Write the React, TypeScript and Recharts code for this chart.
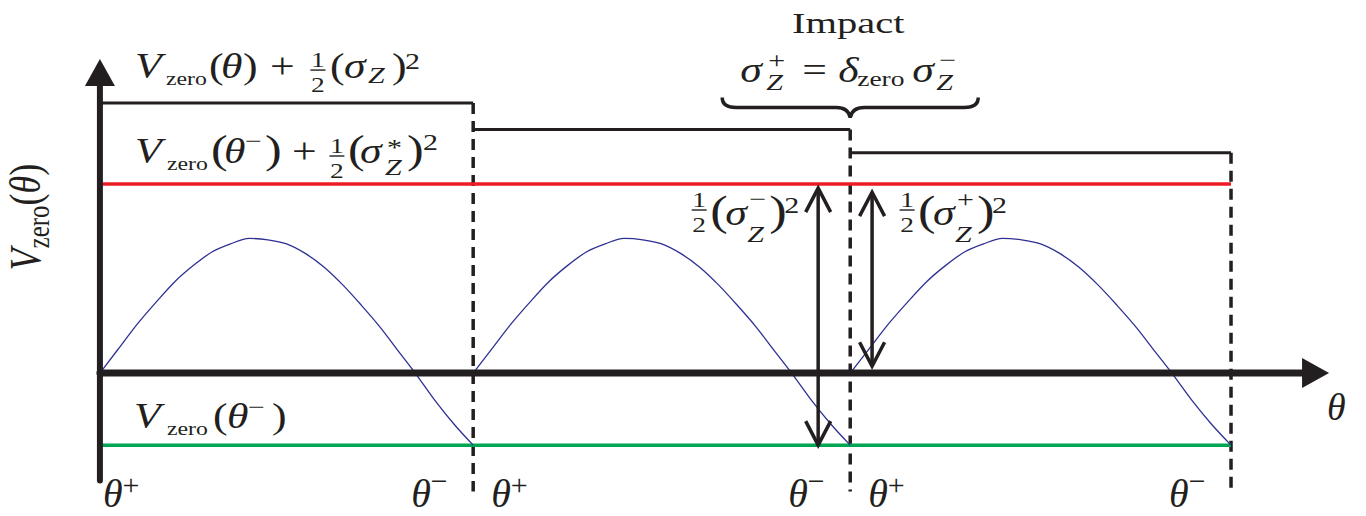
import React from 'react';
import { LineChart, Line, XAxis, YAxis, ReferenceLine, ReferenceDot } from 'recharts';

const WIDTH = 1366;
const HEIGHT = 516;

const INK = '#231f20';
const RED = '#ed1c24';
const GREEN = '#00a651';
const BLUE = '#2e3192';
const SERIF = '"Liberation Serif", "Times New Roman", serif';

// θ at each impact: end of one step (θ-) and start of the next one (θ+)
const impacts = [0, 0.99, 1.99, 3.0];

// V_zero over one step, sampled at fractions of the step
const stepFraction = [0, 0.05, 0.1, 0.15, 0.2, 0.25, 0.3, 0.35, 0.4, 0.45, 0.5, 0.55, 0.6, 0.65, 0.7, 0.75, 0.8, 0.85, 0.9, 0.95, 1];
const vZero = [0, 0.18, 0.36, 0.52, 0.67, 0.79, 0.89, 0.95, 0.99, 0.98, 0.95, 0.88, 0.78, 0.65, 0.5, 0.34, 0.16, -0.02, -0.21, -0.38, -0.53];

// V_zero(θ) + ½(σZ)², constant on each step
const energyLevels = [1.985, 1.79, 1.62];
// V_zero(θ-) + ½(σZ*)²
const limitLevel = 1.39;
// V_zero(θ-)
const bottomLevel = -0.53;

// double arrows ½(σZ-)² (before impact) and ½(σZ+)² (after impact)
const arrowTheta = [1.905, 2.048];
const arrowLow = [-0.53, 0.05];
const arrowHigh = [1.36, 1.33];

const X_DOMAIN = [-0.265, 3.358];
const Y_DOMAIN = [-1.051, 2.743];
const yAxisEnds = [-0.79, 2.31];
const xAxisEnd = 3.26;
const dashBottom = -0.87;

const arcs = impacts.slice(0, 3).map((start, k) =>
  stepFraction.map((f, i) => ({ x: start + f * (impacts[k + 1] - start), v: vZero[i] }))
);
const levelSegments = energyLevels.map((v, k) => [
  { x: impacts[k], v },
  { x: impacts[k + 1], v },
]);
const limitLine = [{ x: impacts[0], v: limitLevel }, { x: impacts[3], v: limitLevel }];
const bottomLine = [{ x: impacts[0], v: bottomLevel }, { x: impacts[3], v: bottomLevel }];

// ---------- shapes ----------

const AxisArrow = (p: any) => {
  const { x1, y1, x2, y2, stroke, strokeWidth } = p;
  const len = Math.hypot(x2 - x1, y2 - y1);
  const ux = (x2 - x1) / len;
  const uy = (y2 - y1) / len;
  const L = 27;
  const W = 15;
  const bx = x2 - ux * L;
  const by = y2 - uy * L;
  return (
    <g>
      <line x1={x1} y1={y1} x2={bx + ux} y2={by + uy} stroke={stroke} strokeWidth={strokeWidth} strokeLinecap="round" />
      <polygon points={`${x2},${y2} ${bx - uy * W},${by + ux * W} ${bx + uy * W},${by - ux * W}`} fill={stroke} />
    </g>
  );
};

const DoubleArrow = (p: any) => {
  const { x1, y1, x2, y2, stroke, strokeWidth } = p;
  const len = Math.hypot(x2 - x1, y2 - y1);
  const ux = (x2 - x1) / len;
  const uy = (y2 - y1) / len;
  const L = 24;
  const W = 12.5;
  const head = (tx: number, ty: number, dx: number, dy: number) =>
    `M${tx - dx * L - dy * W},${ty - dy * L + dx * W} L${tx},${ty} L${tx - dx * L + dy * W},${ty - dy * L - dx * W}`;
  return (
    <g fill="none" stroke={stroke} strokeWidth={strokeWidth}>
      <line x1={x1} y1={y1} x2={x2} y2={y2} />
      <path d={head(x2, y2, ux, uy)} />
      <path d={head(x1, y1, -ux, -uy)} />
    </g>
  );
};

// ---------- math-ish text ----------

type Piece = { t: string; x: number; dy?: number; fs?: number; it?: boolean };
type FracSpec = { x: number; bar: number; fs: number };

const SX = 1.25; // the figure is stretched horizontally
const S = 24; // script size
const SUB = 19; // "zero" subscript

const Frac = ({ x, bar, fs }: FracSpec) => (
  <g>
    <text x={x} y={bar - 3.5} fontSize={fs} textAnchor="middle">1</text>
    <line x1={x - 6} x2={x + 6} y1={bar} y2={bar} stroke={INK} strokeWidth={1.4} />
    <text x={x} y={bar + fs} fontSize={fs} textAnchor="middle">2</text>
  </g>
);

const MathLabel = ({ x, y, pieces, frac, sx = SX, fs = 35 }: { x: number; y: number; pieces: Piece[]; frac?: FracSpec; sx?: number; fs?: number }) => (
  <g transform={`translate(${x},${y}) scale(${sx},1)`} fontFamily={SERIF} fill={INK}>
    <text fontSize={fs}>
      {pieces.map((p, i) => (
        <tspan key={i} x={p.x / sx} y={p.dy ?? 0} fontSize={p.fs ?? fs} fontStyle={p.it ? 'italic' : 'normal'}>
          {p.t}
        </tspan>
      ))}
    </text>
    {frac && <Frac x={frac.x / sx} bar={frac.bar} fs={frac.fs} />}
  </g>
);

const topPieces: Piece[] = [
  { t: 'V', x: 0, it: true },
  { t: 'zero', x: 31, dy: 7, fs: SUB },
  { t: '(', x: 74 },
  { t: 'θ', x: 86, it: true },
  { t: ')', x: 108 },
  { t: '+', x: 135 },
  { t: '(', x: 195 },
  { t: 'σ', x: 209, it: true },
  { t: 'Z', x: 233, dy: 5, fs: S, it: true },
  { t: ')', x: 257 },
  { t: '2', x: 270, dy: -9, fs: S },
];

const limitPieces: Piece[] = [
  { t: 'V', x: 0, it: true },
  { t: 'zero', x: 32, dy: 7, fs: SUB },
  { t: '(', x: 76, fs: 40 },
  { t: 'θ', x: 89, it: true },
  { t: '−', x: 110, dy: -14, fs: S },
  { t: ')', x: 130, fs: 40 },
  { t: '+', x: 157 },
  { t: '(', x: 213, fs: 40 },
  { t: 'σ', x: 225, it: true },
  { t: '*', x: 252, dy: -8, fs: S },
  { t: 'Z', x: 250, dy: 12, fs: S, it: true },
  { t: ')', x: 272, fs: 40 },
  { t: '2', x: 288, dy: -13, fs: S },
];

const bottomPieces: Piece[] = [
  { t: 'V', x: 0, it: true },
  { t: 'zero', x: 33, dy: 7, fs: SUB },
  { t: '(', x: 79 },
  { t: 'θ', x: 93, it: true },
  { t: '−', x: 114, dy: -13, fs: S },
  { t: ')', x: 138 },
];

const impactPieces: Piece[] = [
  { t: 'σ', x: 0, it: true },
  { t: '+', x: 28, dy: -14, fs: S },
  { t: 'Z', x: 26, dy: 8, fs: S, it: true },
  { t: '=', x: 62 },
  { t: 'δ', x: 98, it: true },
  { t: 'zero', x: 117, dy: 4, fs: 22 },
  { t: 'σ', x: 172, it: true },
  { t: '−', x: 199, dy: -14, fs: S },
  { t: 'Z', x: 196, dy: 8, fs: S, it: true },
];

const halfPieces = (sign: string): Piece[] => [
  { t: '(', x: 18, fs: 42 },
  { t: 'σ', x: 33, it: true },
  { t: sign, x: 57, dy: -18, fs: S },
  { t: 'Z', x: 55, dy: 17, fs: S, it: true },
  { t: ')', x: 77, fs: 42 },
  { t: '2', x: 92, dy: -12, fs: S },
];

const TopLabel = ({ cx, cy }: any) => (
  <MathLabel x={cx + 35} y={cy - 25} pieces={topPieces} frac={{ x: 183, bar: -8, fs: 22 }} />
);
const LimitLabel = ({ cx, cy }: any) => (
  <MathLabel x={cx + 35} y={cy - 21} pieces={limitPieces} frac={{ x: 202, bar: -7, fs: 22 }} />
);
const BottomLabel = ({ cx, cy }: any) => <MathLabel x={cx + 34} y={cy - 17} pieces={bottomPieces} />;

const HalfLabel = (sign: string, dx: number) => ({ cx, cy }: any) => (
  <MathLabel x={cx + dx} y={cy + 41} pieces={halfPieces(sign)} frac={{ x: 7, bar: -15, fs: 22 }} />
);

const ImpactLabel = ({ cx, cy }: any) => (
  <g>
    <g transform={`translate(${cx - 2},${cy - 97}) scale(1.35,1)`} fontFamily={SERIF} fill={INK}>
      <text fontSize={30} textAnchor="middle">Impact</text>
    </g>
    <MathLabel x={cx - 110} y={cy - 48} pieces={impactPieces} />
    <path
      d={`M${cx - 128},${cy - 32} Q${cx - 128},${cy - 22} ${cx - 114},${cy - 22} L${cx - 14},${cy - 22} Q${cx - 2},${cy - 22} ${cx},${cy - 12} Q${cx + 2},${cy - 22} ${cx + 14},${cy - 22} L${cx + 114},${cy - 22} Q${cx + 128},${cy - 22} ${cx + 128},${cy - 32}`}
      fill="none"
      stroke={INK}
      strokeWidth={3.5}
    />
  </g>
);

const AxisTitle = ({ cx, cy }: any) => (
  <g transform={`translate(${cx - 60},${cy - 156}) scale(1.25,1) rotate(-90)`} fontFamily={SERIF} fill={INK}>
    <text fontSize={36} textAnchor="middle">
      <tspan fontStyle="italic">V</tspan>
      <tspan fontSize={25} dy={7}>zero</tspan>
      <tspan dy={-7}>(</tspan>
      <tspan fontStyle="italic">θ</tspan>
      <tspan>)</tspan>
    </text>
  </g>
);

const ThetaLabel = ({ cx, cy }: any) => (
  <text x={cx - 2} y={cy + 47} fontSize={38} fontStyle="italic" fontFamily={SERIF} fill={INK}>θ</text>
);

const StepLabel = (sign: string, dx: number) => ({ cx, cy }: any) => (
  <text x={cx + dx} y={cy + 62} fontSize={40} fontFamily={SERIF} fill={INK}>
    <tspan fontStyle="italic">θ</tspan>
    <tspan fontSize={30} dy={sign === '+' ? -12 : -16}>{sign}</tspan>
  </text>
);

const stepLabels: { theta: number; sign: string; dx: number }[] = [];
impacts.forEach((t, k) => {
  if (k > 0) stepLabels.push({ theta: t, sign: '−', dx: -62 });
  if (k < impacts.length - 1) stepLabels.push({ theta: t, sign: '+', dx: k === 0 ? 3 : 18 });
});

export default function App() {
  return (
    <div style={{ position: 'absolute', left: 0, top: 0, width: WIDTH, height: HEIGHT, background: '#fff' }}>
      <LineChart width={WIDTH} height={HEIGHT} margin={{ top: 0, right: 0, bottom: 0, left: 0 }}>
        <XAxis type="number" dataKey="x" domain={X_DOMAIN} allowDataOverflow hide />
        <YAxis type="number" dataKey="v" domain={Y_DOMAIN} allowDataOverflow hide />

        {/* dashed impact instants */}
        {impacts.slice(1).map((t, k) => (
          <ReferenceLine
            key={`dash-${k}`}
            segment={[{ x: t, y: energyLevels[k] }, { x: t, y: dashBottom }]}
            stroke={INK}
            strokeWidth={3.5}
            strokeDasharray="11 7"
          />
        ))}

        {levelSegments.map((seg, k) => (
          <Line key={`lvl-${k}`} data={seg} dataKey="v" stroke={INK} strokeWidth={3} dot={false} activeDot={false} isAnimationActive={false} />
        ))}
        <Line data={limitLine} dataKey="v" stroke={RED} strokeWidth={3.5} dot={false} activeDot={false} isAnimationActive={false} />
        <Line data={bottomLine} dataKey="v" stroke={GREEN} strokeWidth={3.5} dot={false} activeDot={false} isAnimationActive={false} />
        {arcs.map((arc, k) => (
          <Line key={`arc-${k}`} data={arc} dataKey="v" type="monotone" stroke={BLUE} strokeWidth={1.3} dot={false} activeDot={false} isAnimationActive={false} />
        ))}

        {/* axes */}
        <ReferenceLine segment={[{ x: 0, y: yAxisEnds[0] }, { x: 0, y: yAxisEnds[1] }]} stroke={INK} strokeWidth={6} shape={AxisArrow} />
        <ReferenceLine segment={[{ x: 0, y: 0 }, { x: xAxisEnd, y: 0 }]} stroke={INK} strokeWidth={7} shape={AxisArrow} />

        {/* ½(σZ)² arrows */}
        {arrowTheta.map((t, k) => (
          <ReferenceLine
            key={`arr-${k}`}
            segment={[{ x: t, y: arrowLow[k] }, { x: t, y: arrowHigh[k] }]}
            stroke={INK}
            strokeWidth={3.5}
            shape={DoubleArrow}
          />
        ))}

        {/* labels */}
        <ReferenceDot x={0} y={energyLevels[0]} r={0} shape={TopLabel} />
        <ReferenceDot x={0} y={limitLevel} r={0} shape={LimitLabel} />
        <ReferenceDot x={0} y={bottomLevel} r={0} shape={BottomLabel} />
        <ReferenceDot x={0} y={0} r={0} shape={AxisTitle} />
        <ReferenceDot x={xAxisEnd} y={0} r={0} shape={ThetaLabel} />
        <ReferenceDot x={impacts[2]} y={energyLevels[1]} r={0} shape={ImpactLabel} />
        <ReferenceDot x={arrowTheta[0]} y={limitLevel} r={0} shape={HalfLabel('−', -126)} />
        <ReferenceDot x={arrowTheta[1]} y={limitLevel} r={0} shape={HalfLabel('+', 28)} />
        {stepLabels.map((s, i) => (
          <ReferenceDot key={`step-${i}`} x={s.theta} y={bottomLevel} r={0} shape={StepLabel(s.sign, s.dx)} />
        ))}
      </LineChart>
    </div>
  );
}
